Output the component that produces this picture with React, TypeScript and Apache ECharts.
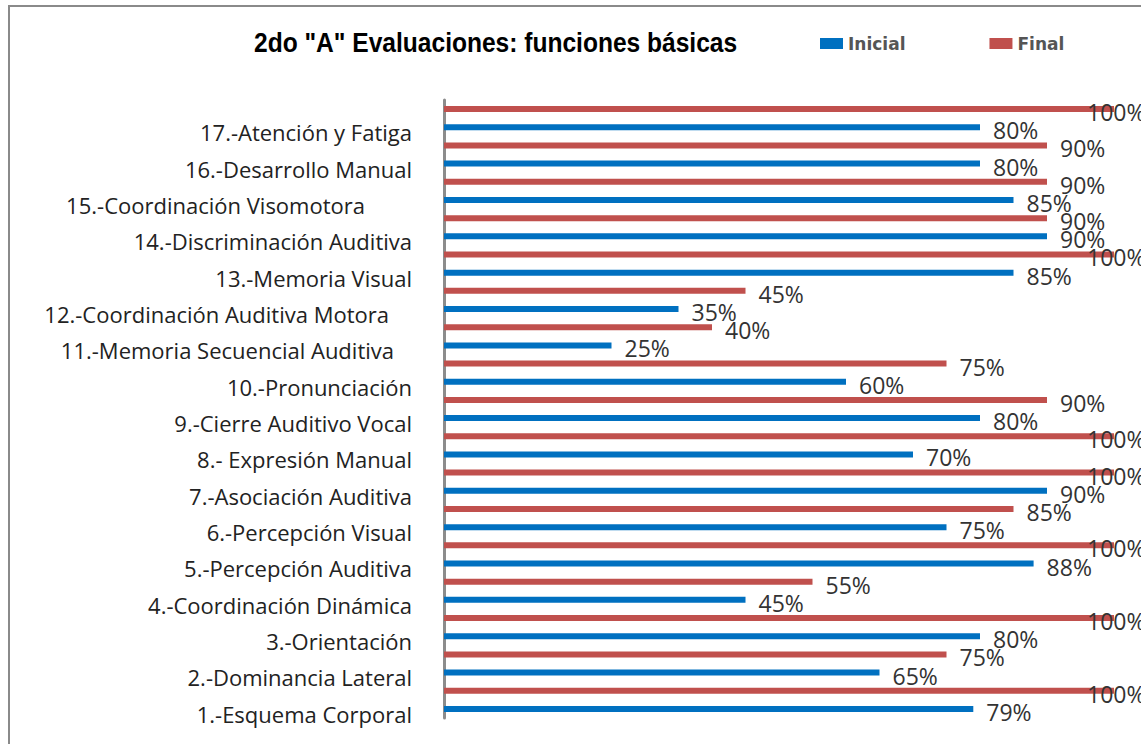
import React, { useEffect, useRef } from "react";
import * as echarts from "echarts";

const categories = [
  "1.-Esquema Corporal",
  "2.-Dominancia Lateral",
  "3.-Orientación",
  "4.-Coordinación Dinámica",
  "5.-Percepción Auditiva",
  "6.-Percepción Visual",
  "7.-Asociación Auditiva",
  "8.- Expresión Manual",
  "9.-Cierre Auditivo Vocal",
  "10.-Pronunciación",
  "11.-Memoria Secuencial Auditiva",
  "12.-Coordinación Auditiva Motora",
  "13.-Memoria Visual",
  "14.-Discriminación Auditiva",
  "15.-Coordinación Visomotora",
  "16.-Desarrollo Manual",
  "17.-Atención y Fatiga",
];
const inicial = [79, 65, 80, 45, 88, 75, 90, 70, 80, 60, 25, 35, 85, 90, 85, 80, 80];
const final = [100, 75, 100, 55, 100, 85, 100, 100, 90, 75, 40, 45, 100, 90, 90, 90, 100];

const titleText = '2do "A" Evaluaciones: funciones básicas';
const seriesNames = ["Inicial", "Final"];

// extra right padding for labels that carried trailing spaces in the original
const labelPadRight: Record<string, number> = {
  "11.-Memoria Secuencial Auditiva": 18,
  "12.-Coordinación Auditiva Motora": 23,
  "15.-Coordinación Visomotora": 47,
};

const BLUE = "#0070C0";
const RED = "#C0504D";
const LABEL_FONT = "'Open Sans', sans-serif";
const CAT_SIZE = 22;

function buildData(values: number[]) {
  return values.map((v) =>
    v >= 100 ? { value: v, label: { offset: [-40, 3] } } : { value: v }
  );
}

export default function App() {
  const ref = useRef<HTMLDivElement>(null);
  useEffect(() => {
    if (!ref.current) return;
    const chart = echarts.init(ref.current, null, { renderer: "svg" });
    const valueLabel = {
      show: true,
      position: "right",
      distance: 13,
      offset: [0, 3],
      formatter: (p: any) => `${p.value}%`,
      fontFamily: LABEL_FONT,
      fontSize: 23,
      color: "#333",
    };
    const richPad = (pad: number) => ({
      fontFamily: LABEL_FONT,
      fontSize: CAT_SIZE,
      color: "#222",
      padding: [0, pad, 0, 0],
    });
    chart.setOption({
      animation: false,
      backgroundColor: "#fff",
      legend: {
        data: seriesNames,
        left: 815,
        top: 30,
        itemWidth: 23,
        itemHeight: 11,
        itemGap: 84,
        icon: "rect",
        textStyle: {
          fontFamily: "DejaVu Sans",
          fontWeight: "bold",
          fontSize: 17,
          color: "#555",
        },
      },
      grid: { left: 444, right: 27, top: 100, bottom: 26 },
      xAxis: { type: "value", min: 0, max: 100, show: false },
      yAxis: {
        type: "category",
        data: categories,
        axisTick: { show: false },
        axisLine: { show: true, lineStyle: { color: "#8c8c8c", width: 3 } },
        axisLabel: {
          margin: 32,
          padding: [28, 0, 0, 0],
          fontFamily: LABEL_FONT,
          fontSize: CAT_SIZE,
          color: "#222",
          formatter: (v: string) => {
            const pad = labelPadRight[v];
            return pad ? `{p${pad}|${v}}` : v;
          },
          rich: { p18: richPad(18), p23: richPad(23), p47: richPad(47) },
        },
      },
      graphic: [
        {
          type: "rect",
          shape: { x: 9, y: 6, width: 1200, height: 800 },
          style: { fill: "none", stroke: "#8a8a8a", lineWidth: 2 },
          silent: true,
        },
        {
          type: "text",
          x: 254,
          y: 43,
          scaleX: 0.91,
          style: {
            text: titleText,
            fontFamily: "'Liberation Sans', Arial, sans-serif",
            fontWeight: "bold",
            fontSize: 27,
            fill: "#000",
            align: "left",
            verticalAlign: "middle",
          },
        },
      ],
      series: [
        {
          name: "Final",
          type: "bar",
          data: buildData(final),
          barWidth: 6,
          barGap: "203%",
          itemStyle: { color: RED },
          label: valueLabel,
        },
        {
          name: "Inicial",
          type: "bar",
          data: buildData(inicial),
          barWidth: 6,
          barGap: "203%",
          itemStyle: { color: BLUE },
          label: valueLabel,
        },
      ],
    });
    return () => chart.dispose();
  }, []);
  return (
    <div
      ref={ref}
      style={{ position: "fixed", left: 0, top: 0, width: 1141, height: 744 }}
    />
  );
}
